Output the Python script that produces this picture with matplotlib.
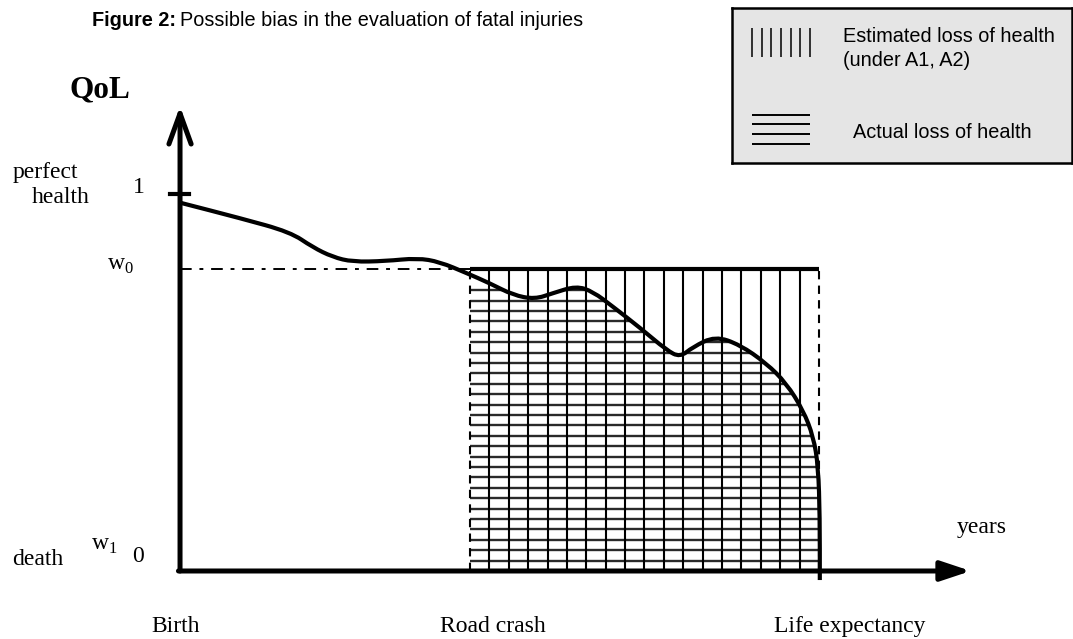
import numpy as np
import matplotlib.pyplot as plt
from matplotlib.path import Path
from matplotlib.patches import PathPatch

plt.rcParams['mathtext.fontset'] = 'custom'
plt.rcParams['mathtext.rm'] = 'Liberation Serif'
SERIF = 'Liberation Serif'
SANS = 'Liberation Sans'

# quality of life over age
curve_age = [0, 7.5, 13.8, 16.6, 19.1, 21.6, 25.7, 29.7, 32.5, 35.9, 38.8, 41.7, 44.4,
             46.7, 49.6, 51.7, 54.2, 57.6, 60.9, 62.6, 64.2, 67.0, 70.1, 73.4, 75.9,
             78.0, 79.3, 79.9, 80.1, 80.1]
curve_qol = [0.977, 0.936, 0.899, 0.859, 0.833, 0.820, 0.822, 0.830, 0.820, 0.790, 0.763,
             0.732, 0.721, 0.737, 0.756, 0.741, 0.701, 0.645, 0.586, 0.567, 0.594, 0.623,
             0.600, 0.551, 0.498, 0.427, 0.356, 0.277, 0.144, -0.024]
crash_age = 36.3
life_exp = 80.0
w0 = 0.80
x_labels = ['Birth', 'Road crash', 'Life expectancy']
x_label_pos = [-0.5, 39.2, 83.8]

fig = plt.figure(figsize=(10.73, 6.39), dpi=100)
ax = fig.add_axes([0, 0, 1, 1])
ax.set_xlim(-22.54, 111.8)
ax.set_ylim(-0.1804, 1.5146)
ax.axis('off')

# smooth curve: quadratic segments through midpoints
pts = np.column_stack([curve_age, curve_qol])
mids = (pts[:-1] + pts[1:]) / 2
verts = [pts[0], mids[0]]
codes = [Path.MOVETO, Path.LINETO]
for i in range(1, len(pts) - 1):
    verts += [pts[i], mids[i]]
    codes += [Path.CURVE3, Path.CURVE3]
verts.append(pts[-1])
codes.append(Path.LINETO)
curve_path = Path(verts, codes)

clip_path = Path(verts + [(life_exp, 0), (0, 0), (0, 0)],
                 codes + [Path.LINETO, Path.LINETO, Path.CLOSEPOLY])
clip_patch = PathPatch(clip_path, facecolor='none', edgecolor='none')
ax.add_patch(clip_patch)

# actual loss: horizontal lines under the curve
levels = np.arange(0.745, 0, -0.0276)
hl = ax.hlines(levels, crash_age, life_exp + 1, colors='#2a2a2a', lw=1.7)
hl.set_clip_path(clip_patch)

# estimated loss: vertical lines up to w0
xs = np.linspace(crash_age, life_exp, 19)[1:-1]
ax.vlines(xs, 0, w0, colors='black', lw=1.5)
ax.vlines([crash_age, life_exp], 0, w0, colors='black', lw=1.5, linestyles=(0, (4, 3)))
ax.hlines(w0, crash_age, life_exp, colors='black', lw=3)
ax.plot([0, crash_age], [w0, w0], color='black', lw=1.4, dashes=(6, 4, 2, 4))

ax.add_patch(PathPatch(curve_path, facecolor='none', edgecolor='black', lw=3, zorder=5))

# axes with arrows
ax.annotate('', xy=(0, 1.233), xytext=(0, 0),
            arrowprops=dict(arrowstyle='->,head_length=2.2,head_width=0.8', lw=3.6,
                            shrinkA=0, shrinkB=0, color='black'))
ax.annotate('', xy=(99, 0), xytext=(-0.2, 0),
            arrowprops=dict(arrowstyle='-|>,head_length=1.8,head_width=0.6', lw=3.6,
                            shrinkA=0, shrinkB=0, color='black'), zorder=6)
ax.plot([-1.25, 1.13], [1, 1], color='black', lw=3)

# axis texts
ts = 17
ax.text(-13.9, 1.257, 'QoL', family=SERIF, fontsize=22.5, fontweight='bold')
ax.text(-21.0, 1.042, 'perfect', family=SERIF, fontsize=ts)
ax.text(-18.6, 0.976, 'health', family=SERIF, fontsize=ts)
ax.text(-5.2, 1.003, '1', family=SERIF, fontsize=ts, ha='center')
ax.text(-9.1, 0.798, r'w$_\mathrm{0}$', family=SERIF, fontsize=ts)
ax.text(-21.0, 0.016, 'death', family=SERIF, fontsize=ts)
ax.text(-11.2, 0.056, r'w$_\mathrm{1}$', family=SERIF, fontsize=ts)
ax.text(-5.26, 0.024, '0', family=SERIF, fontsize=ts, ha='center')
ax.text(97.3, 0.101, 'years', family=SERIF, fontsize=ts)
for lab, xp in zip(x_labels, x_label_pos):
    ax.text(xp, -0.162, lab, family=SERIF, fontsize=ts, ha='center')

# title
t1 = fig.text(92 / 1073, 1 - 21 / 639, 'Figure 2:', family=SANS, fontsize=14.3,
              fontweight='bold', va='center')
r = fig.canvas.get_renderer()
bb = t1.get_window_extent(r)
fig.text((bb.x1 + 4) / 1073, 1 - 21 / 639, 'Possible bias in the evaluation of fatal injuries',
         family=SANS, fontsize=14.3, va='center')

# legend box
lax = fig.add_axes([732 / 1073, 1 - 163 / 639, (1072 - 732) / 1073, 155 / 639])
lax.set_facecolor('#e5e5e5')
lax.set_xlim(0, 340)
lax.set_ylim(155, 0)
lax.set_xticks([])
lax.set_yticks([])
for s in lax.spines.values():
    s.set_linewidth(1.8)
lax.vlines(np.linspace(20, 78, 7), 20, 49, colors='black', lw=1.1)
lax.hlines([107, 116, 126, 136], 20, 78, colors='black', lw=1.4)
lax.text(111, 29, 'Estimated loss of health', family=SANS, fontsize=14.3, va='center')
lax.text(111, 52, '(under A1, A2)', family=SANS, fontsize=14.3, va='center')
lax.text(121, 125, 'Actual loss of health', family=SANS, fontsize=14.3, va='center')

fig.savefig('out.png', dpi=100)
